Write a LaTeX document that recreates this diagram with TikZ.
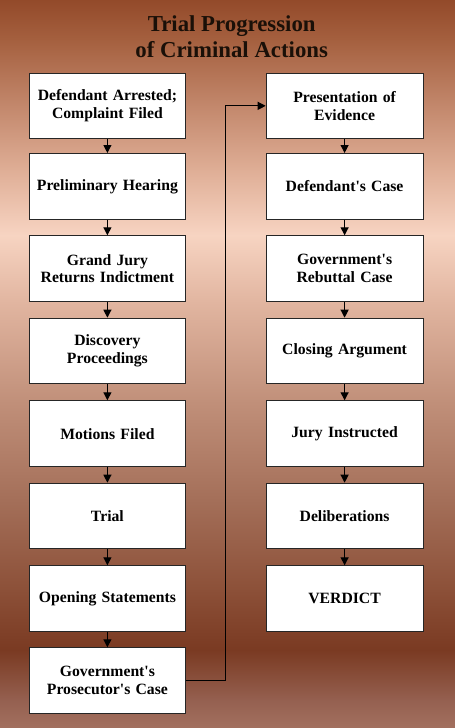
\documentclass[tikz,border=0pt]{standalone}
\usepackage{fontspec}
\setmainfont{Liberation Serif}
\usetikzlibrary{arrows.meta}
\definecolor{bgA}{HTML}{934A2A}
\definecolor{bgB}{HTML}{A5603F}
\definecolor{bgC}{HTML}{C08468}
\definecolor{bgD}{HTML}{DFAE96}
\definecolor{bgE}{HTML}{F7D4C2}
\definecolor{bgF}{HTML}{E2B6A1}
\definecolor{bgG}{HTML}{C1907A}
\definecolor{bgH}{HTML}{A46F59}
\definecolor{bgI}{HTML}{8C5038}
\definecolor{bgJ}{HTML}{7A3A22}
\definecolor{bgK}{HTML}{956050}
\definecolor{bgL}{HTML}{A3705F}
\definecolor{titlecol}{HTML}{1A1008}
\definecolor{boxline}{HTML}{262626}
\newcommand{\apos}{\textquotesingle}
\tikzset{
  stepbox/.style={draw=boxline, line width=1pt, fill=white, anchor=north west,
    minimum width=156.8pt, minimum height=65.7pt, inner sep=2pt,
    text width=152pt, align=center,
    font=\fontsize{15.7}{17.6}\selectfont\bfseries},
  arr/.style={draw=black, line width=1.1pt, -{Triangle[width=8pt,length=8pt]}},
  band/.style={draw=none}
}
\begin{document}
\begin{tikzpicture}[x=1pt,y=-1pt]
\useasboundingbox (0,0) rectangle (455,728);
% background gradient bands
\shade[band, top color=bgA, bottom color=bgB] (0,0) rectangle (455,40.5);
\shade[band, top color=bgB, bottom color=bgC] (0,40) rectangle (455,100.5);
\shade[band, top color=bgC, bottom color=bgD] (0,100) rectangle (455,170.5);
\shade[band, top color=bgD, bottom color=bgE] (0,170) rectangle (455,235.5);
\shade[band, top color=bgE, bottom color=bgF] (0,235) rectangle (455,300.5);
\shade[band, top color=bgF, bottom color=bgG] (0,300) rectangle (455,400.5);
\shade[band, top color=bgG, bottom color=bgH] (0,400) rectangle (455,500.5);
\shade[band, top color=bgH, bottom color=bgI] (0,500) rectangle (455,590.5);
\shade[band, top color=bgI, bottom color=bgJ] (0,590) rectangle (455,650.5);
\shade[band, top color=bgJ, bottom color=bgK] (0,650) rectangle (455,700.5);
\shade[band, top color=bgK, bottom color=bgL] (0,700) rectangle (455,728);
% title
\node[font=\fontsize{22.8}{26}\selectfont\bfseries, text=titlecol, align=center] (title) at (231.7,36.5) {Trial Progression\\of Criminal Actions};
% left column
\node[stepbox] (l1) at (28.5,72.5) {Defendant Arrested;\\Complaint Filed};
\node[stepbox] (l2) at (28.5,153) {Preliminary Hearing};
\node[stepbox] (l3) at (28.5,235.3) {Grand Jury\\Returns Indictment};
\node[stepbox] (l4) at (28.5,317.7) {Discovery\\Proceedings};
\node[stepbox] (l5) at (28.5,400.3) {Motions Filed};
\node[stepbox] (l6) at (28.5,482.7) {Trial};
\node[stepbox] (l7) at (28.5,565.3) {Opening Statements};
\node[stepbox] (l8) at (28.5,647.3) {Government\apos s\\Prosecutor\apos s Case};
% right column
\node[stepbox] (r1) at (265.7,72.5) {Presentation of\\Evidence};
\node[stepbox] (r2) at (265.7,153) {Defendant\apos s Case};
\node[stepbox] (r3) at (265.7,235.3) {Government\apos s\\Rebuttal Case};
\node[stepbox] (r4) at (265.7,317.7) {Closing Argument};
\node[stepbox] (r5) at (265.7,400.3) {Jury Instructed};
\node[stepbox] (r6) at (265.7,482.7) {Deliberations};
\node[stepbox] (r7) at (265.7,565.3) {VERDICT};
% connectors
\foreach \a/\b in {l1/l2,l2/l3,l3/l4,l4/l5,l5/l6,l6/l7,l7/l8,r1/r2,r2/r3,r3/r4,r4/r5,r5/r6,r6/r7}
  \draw[arr] (\a.south) -- (\b.north);
\draw[arr] (l8.east) -- ++(39.3,0) |- (r1.west);
\end{tikzpicture}
\end{document}
